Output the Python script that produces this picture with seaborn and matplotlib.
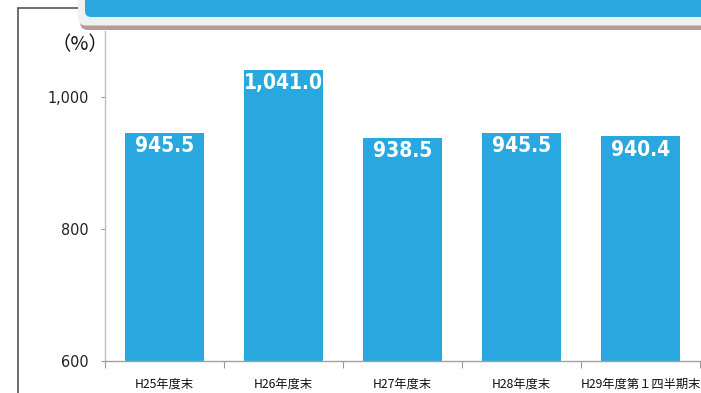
import matplotlib
matplotlib.use("Agg")
import matplotlib.pyplot as plt
import seaborn as sns
import pandas as pd
from matplotlib.patches import FancyBboxPatch
from matplotlib.lines import Line2D
from matplotlib.ticker import FixedLocator
from matplotlib.transforms import IdentityTransform

categories = ["H25年度末", "H26年度末", "H27年度末", "H28年度末", "H29年度第１四半期末"]
values = [945.5, 1041.0, 938.5, 945.5, 940.4]
value_labels = ["945.5", "1,041.0", "938.5", "945.5", "940.4"]
yticks = [600, 800, 1000]
ytick_labels = ["600", "800", "1,000"]
unit_label = "（%）"

sns.set_theme(style="white")
NARROW = ["Liberation Sans Narrow", "DejaVu Sans"]
CJK = ["Noto Sans CJK JP", "DejaVu Sans"]
plt.rcParams["font.family"] = NARROW

W, H = 701, 393
fig = plt.figure(figsize=(W / 100, H / 100), dpi=100)
fig.patch.set_facecolor("white")

def fx(px):
    return px / W

def fy(py):
    return 1 - py / H

ax = fig.add_axes([fx(105), fy(361), fx(700) - fx(105), fy(31) - fy(361)])
df = pd.DataFrame({"cat": categories, "val": values})
sns.barplot(data=df, x="cat", y="val", color="#29A8E0", saturation=1,
            width=0.67, ax=ax, edgecolor="none")
ax.set_ylim(600, 1100)
ax.set_xlim(-0.5, len(categories) - 0.5)
ax.set_xlabel("")
ax.set_ylabel("")

for s in ["top", "right"]:
    ax.spines[s].set_visible(False)
ax.spines["left"].set_color("#bdbdbd")
ax.spines["left"].set_linewidth(1.0)
ax.spines["bottom"].set_color("#a0a0a0")
ax.spines["bottom"].set_linewidth(1.0)

ax.set_yticks(yticks)
ax.set_yticklabels(ytick_labels, fontsize=11.5, color="#222222", family=NARROW,
                   fontstretch="condensed")
ax.tick_params(axis="y", which="major", left=True, length=3, width=0.8,
               color="#999999", pad=9)

ax.set_xticks(range(len(categories)))
ax.set_xticklabels(categories, fontsize=8.8, color="#111111", family=CJK)
ax.tick_params(axis="x", which="major", bottom=True, length=0, pad=12)
ax.xaxis.set_minor_locator(FixedLocator([i - 0.5 for i in range(len(categories) + 1)]))
ax.tick_params(axis="x", which="minor", bottom=True, length=5, width=0.8, color="#999999")

for i, (v, lab) in enumerate(zip(values, value_labels)):
    ax.annotate(lab, xy=(i, v), xytext=(0, -2.5), textcoords="offset points",
                ha="center", va="top", color="white", fontsize=15,
                fontweight="bold", family=NARROW, fontstretch="condensed")

# unit label
fig.text(fx(108), fy(45), unit_label, ha="right", va="center", fontsize=14,
         color="#111111", family=CJK)

# outer frame lines
fig.add_artist(Line2D([fx(18), fx(18)], [fy(8), fy(393)], color="#555555", lw=1.2,
                      transform=fig.transFigure))
fig.add_artist(Line2D([fx(18), fx(80)], [fy(8), fy(8)], color="#555555", lw=1.2,
                      transform=fig.transFigure))

# banner: shadow, gray frame, blue fill
def pbox(x0, y0, x1, y1, fc, r, z):
    p = FancyBboxPatch((x0, H - y1), x1 - x0, y1 - y0,
                       boxstyle=f"round,pad=0,rounding_size={r}",
                       fc=fc, ec="none", zorder=z)
    p.set_transform(IdentityTransform())
    fig.add_artist(p)

pbox(80, -20, 760, 30, "#b89a9a", 8, 5)
pbox(78, -20, 760, 25.5, "#f0f0f0", 8, 6)
pbox(85, -20, 760, 17, "#29A8E0", 6, 7)

fig.savefig("out.png", dpi=100, facecolor="white")
